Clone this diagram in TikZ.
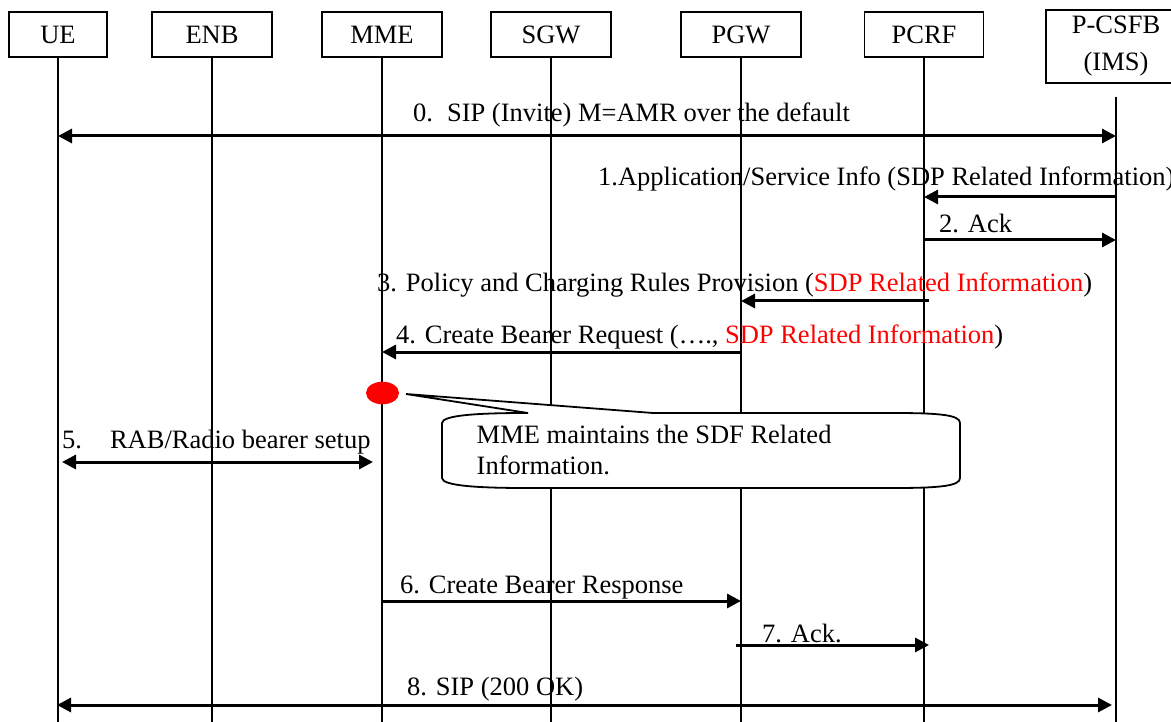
\documentclass[tikz,border=0pt]{standalone}
\usepackage{fontspec}
\setmainfont{Liberation Serif}
\usetikzlibrary{arrows.meta}
\begin{document}
\begin{tikzpicture}[x=1pt,y=-1pt,
  font=\fontsize{26.5}{37}\selectfont,
  actor/.style={draw, line width=1.8pt, minimum height=45pt, inner sep=0pt, align=center},
  life/.style={line width=1.6pt},
  msg/.style={line width=3pt, -{Triangle[length=14pt,width=14pt]}},
  dmsg/.style={line width=3pt, {Triangle[length=14pt,width=14pt]}-{Triangle[length=14pt,width=14pt]}},
  lbl/.style={anchor=base west, inner sep=0pt},
  note/.style={draw, line width=1.8pt, fill=white}]
\useasboundingbox (0,0) rectangle (1171,722);

% actors
\node[actor, minimum width=98pt]  (ue)   at (58,34.5)  {UE};
\node[actor, minimum width=120pt] (enb)  at (212,34.5) {ENB};
\node[actor, minimum width=120pt] (mme)  at (382,34.5) {MME};
\node[actor, minimum width=120pt] (sgw)  at (551,34.5) {SGW};
\node[actor, minimum width=120pt] (pgw)  at (741,34.5) {PGW};
\node[actor, minimum width=119pt] (pcrf) at (924,34.5) {PCRF};
\node[actor, minimum width=140pt, minimum height=73pt] (ims) at (1116,46.5) {P-CSFB\\(IMS)};

% lifeline ends
\coordinate (ue-e)   at (58,722);
\coordinate (enb-e)  at (212,722);
\coordinate (mme-e)  at (382,722);
\coordinate (sgw-e)  at (551,722);
\coordinate (pgw-e)  at (741,722);
\coordinate (pcrf-e) at (924,722);
\coordinate (ims-s)  at (1116,97);
\coordinate (ims-e)  at (1116,722);

\draw[life] (ue.south) -- (ue-e);
\draw[life] (enb.south) -- (enb-e);
\draw[life] (mme.south) -- (mme-e);
\draw[life] (sgw.south) -- (sgw-e);
\draw[life] (pgw.south) -- (pgw-e);
\draw[life] (pcrf.south) -- (pcrf-e);
\draw[life] (ims-s) -- (ims-e);

% callout
\draw[note] (442,423) .. controls (442,415) and (480,413) .. (526,413) -- (528,413) -- (406,394) -- (653,413) -- (894,413)
  .. controls (940,413) and (960,415) .. (960,423) -- (960,478)
  .. controls (960,486) and (940,488) .. (894,488) -- (526,488)
  .. controls (480,488) and (442,486) .. (442,478) -- cycle;
\node[lbl] (n1) at (476.5,443) {MME maintains the SDF Related};
\node[lbl] (n2) at (476.5,474) {Information.};
\fill[red] (382.5,393) ellipse [x radius=16.5, y radius=11.3];

% message points
\coordinate (m0a) at (58,136);    \coordinate (m0b) at (1116,136);
\coordinate (m1a) at (1116,197);  \coordinate (m1b) at (924,197);
\coordinate (m2a) at (924,240);   \coordinate (m2b) at (1116,240);
\coordinate (m3a) at (929,301);   \coordinate (m3b) at (741,301);
\coordinate (m4a) at (741,352);   \coordinate (m4b) at (382,352);
\coordinate (m5a) at (62,462);    \coordinate (m5b) at (373,462);
\coordinate (m6a) at (383,601);   \coordinate (m6b) at (741,601);
\coordinate (m7a) at (736,645);   \coordinate (m7b) at (929,645);
\coordinate (m8a) at (57,705);    \coordinate (m8b) at (1112,705);

\draw[dmsg] (m0a) -- (m0b);
\draw[msg] (m1a) -- (m1b);
\draw[msg] (m2a) -- (m2b);
\draw[msg] (m3a) -- (m3b);
\draw[msg] (m4a) -- (m4b);
\draw[dmsg] (m5a) -- (m5b);
\draw[msg] (m6a) -- (m6b);
\draw[msg] (m7a) -- (m7b);
\draw[dmsg] (m8a) -- (m8b);

% labels
\node[lbl] (t0) at (413,122) {0.\hspace{14pt}SIP (Invite) M=AMR over the default};
\node[lbl] (t1) at (598,186) {1.Application/Service Info (SDP Related Information)};
\node[lbl] (t2) at (939,233) {2. Ack};
\node[lbl] (t3) at (377,292) {3. Policy and Charging Rules Provision (\textcolor{red}{SDP Related Information})};
\node[lbl] (t4) at (396,344) {4. Create Bearer Request (…., \textcolor{red}{SDP Related Information})};
\node[lbl] (t5) at (62,448) {5.\hspace{28pt}RAB/Radio bearer setup};
\node[lbl] (t6) at (400,593) {6. Create Bearer Response};
\node[lbl] (t7) at (762,642) {7. Ack.};
\node[lbl] (t8) at (407,695) {8. SIP (200 OK)};
\end{tikzpicture}
\end{document}
